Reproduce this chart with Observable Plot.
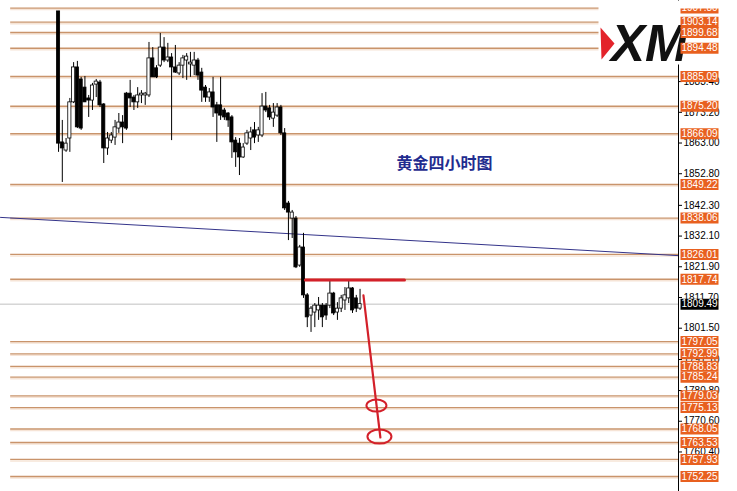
<!DOCTYPE html>
<html>
<head>
<meta charset="utf-8">
<script src="https://cdn.jsdelivr.net/npm/d3@7"></script>
<script src="https://cdn.jsdelivr.net/npm/@observablehq/plot@0.6"></script>
<style>
  html, body { margin: 0; padding: 0; background: #ffffff; }
  #chart svg { display: block; }
</style>
</head>
<body>
<div id="chart"></div>
<script>
// ---- Candle data (gold, 4-hour bars) ----
const open = [1906.7,1863.2,1860.5,1864.5,1876.5,1888.1,1884.1,1881.4,1877.8,1877.1,
  1882.4,1883.1,1875.8,1861.2,1863.8,1864.8,1867.8,1869.8,1879.4,1879.4,
  1878.1,1876.5,1878.8,1878.8,1878.8,1891.1,1887.8,1888.7,1894.7,1890.4,
  1891.4,1888.1,1886.1,1888.7,1890.4,1889.1,1888.7,1890.4,1886.4,1881.4,
  1878.1,1879.8,1875.5,1875.5,1873.8,1872.8,1871.5,1863.8,1862.8,1858.2,
  1862.8,1864.5,1867.2,1865.5,1865.5,1875.1,1874.5,1871.1,1872.1,1874.8,
  1866.2,1842.9,1837.9,1837.9,1822.3,1828.3,1812.4,1805.7,1806.7,1807.4,
  1809.0,1809.0,1809.0,1813.0,1806.7,1808.0,1810.7,1811.4,1814.7,1811.4,
  1808.0];
const high = [1906.7,1870.5,1864.5,1877.8,1889.7,1890.1,1884.8,1885.1,1878.8,1882.8,
  1884.1,1883.8,1876.1,1866.5,1866.5,1870.5,1872.8,1872.1,1879.8,1883.8,
  1878.8,1881.4,1880.4,1879.8,1896.4,1894.7,1888.7,1899.4,1898.0,1896.1,
  1892.7,1895.4,1889.7,1892.1,1892.7,1893.1,1893.1,1891.1,1887.8,1882.1,
  1881.1,1884.8,1876.5,1884.8,1874.5,1873.1,1872.1,1864.8,1864.5,1862.8,
  1867.2,1868.2,1869.8,1868.2,1879.4,1879.8,1875.5,1876.1,1876.1,1875.5,
  1867.8,1843.6,1840.6,1838.6,1829.0,1833.0,1813.0,1808.7,1809.7,1811.7,
  1809.7,1809.7,1817.3,1813.4,1810.0,1812.4,1815.0,1817.3,1815.0,1812.4,
  1814.4];
const low = [1859.9,1849.9,1859.9,1859.9,1876.1,1867.8,1867.2,1876.5,1871.5,1873.8,
  1878.1,1874.8,1856.2,1858.9,1862.8,1862.2,1866.2,1862.8,1867.2,1874.8,
  1873.8,1874.5,1876.1,1875.5,1878.1,1884.8,1884.4,1888.1,1889.7,1889.7,
  1863.8,1886.1,1885.4,1884.4,1883.8,1884.8,1885.4,1883.8,1876.5,1876.5,
  1876.5,1871.5,1863.2,1870.5,1870.5,1868.2,1857.9,1854.9,1852.2,1857.9,
  1862.2,1860.5,1862.8,1863.2,1864.8,1873.1,1870.5,1868.2,1871.5,1865.5,
  1840.6,1830.6,1831.3,1821.3,1821.7,1811.4,1801.7,1800.1,1801.7,1804.1,
  1801.7,1804.1,1808.0,1805.7,1804.1,1806.7,1807.4,1809.7,1806.4,1806.7,
  1807.4];
const close = [1862.8,1861.2,1862.8,1876.5,1888.1,1868.2,1867.8,1876.5,1877.1,1882.1,
  1883.4,1875.5,1861.2,1864.5,1865.5,1868.2,1869.8,1868.2,1867.8,1877.8,
  1876.5,1878.8,1879.4,1879.4,1891.1,1884.8,1884.8,1894.7,1890.4,1891.4,
  1888.1,1886.4,1888.7,1891.1,1891.7,1889.7,1890.4,1885.4,1880.4,1878.1,
  1879.8,1874.8,1872.8,1872.1,1871.5,1870.5,1863.2,1859.9,1858.2,1861.5,
  1866.2,1866.5,1864.8,1867.2,1875.1,1873.8,1871.5,1873.1,1874.8,1866.2,
  1841.3,1839.9,1839.9,1821.7,1828.3,1812.4,1805.1,1808.0,1809.0,1809.0,
  1805.1,1805.7,1813.0,1806.4,1808.0,1811.4,1812.4,1814.7,1807.4,1808.0,
  1809.49];

// ---- Horizontal levels and price axis ----
const levels = [1907.80,1903.14,1899.68,1894.48,1885.09,1875.20,1866.09,1849.22,1838.06,
  1826.01,1817.74,1797.05,1792.99,1788.83,1785.24,1779.03,1775.13,1768.05,1763.53,1757.93,1752.25];
const levelStartIdx = -12.7;
const lastPrice = [1809.49];
const axisTicks = [1883.40,1873.20,1863.00,1852.80,1842.30,1832.10,1821.90,1811.70,1801.50,
  1791.10,1780.80,1770.60,1760.40];

// ---- Annotations (bar index, price) ----
const trendIdx = [-15.4, 164.5];
const trendPrice = [1838.3, 1825.6];
const resistIdx = [65.5, 91.8];
const resistPrice = [1817.5, 1817.5];
const projIdx = [80.9, 85.4];
const projPrice = [1812.4, 1765.2];
const targetIdx = [84.35, 85.15];
const targetPrice = [1775.8, 1765.5];
const noteIdx = [102.4];
const notePrice = [1856.2];
const noteText = ["黄金四小时图"];

const candles = open.map((o, i) => ({i, o, h: high[i], l: low[i], c: close[i], up: close[i] >= o}));
const trend = trendIdx.map((i, k) => ({i, p: trendPrice[k]}));
const resist = resistIdx.map((i, k) => ({i, p: resistPrice[k]}));
const proj = projIdx.map((i, k) => ({i, p: projPrice[k]}));
const targets = targetIdx.map((i, k) => ({i, p: targetPrice[k], k}));
const note = noteIdx.map((i, k) => ({i, p: notePrice[k], t: noteText[k]}));

const FONT = "Liberation Sans, Arial, sans-serif";
const ORANGE_LINE = "#c9946b";
const LABEL_BG = "#e8601f";
const RED = "#d3202a";

// custom symbols
const boxSymbol = (x, w, h) => ({draw(ctx) { ctx.rect(x, -h / 2, w, h); }});
const ellipseSymbol = (rx, ry) => ({draw(ctx) {
  const k = 0.5523, kx = rx * k, ky = ry * k;
  ctx.moveTo(rx, 0);
  ctx.bezierCurveTo(rx, ky, kx, ry, 0, ry);
  ctx.bezierCurveTo(-kx, ry, -rx, ky, -rx, 0);
  ctx.bezierCurveTo(-rx, -ky, -kx, -ry, 0, -ry);
  ctx.bezierCurveTo(kx, -ry, rx, -ky, rx, 0);
  ctx.closePath();
}});
const logoBox = {draw(ctx) { ctx.rect(-80, 0, 90, 64); }};
const logoTri = {draw(ctx) { ctx.moveTo(-78, 27); ctx.lineTo(-64, 43); ctx.lineTo(-77, 59); ctx.closePath(); }};
const topCover = {draw(ctx) { ctx.rect(1, 0, 42, 8); }};

const chart = Plot.plot({
  width: 737,
  height: 491,
  marginLeft: 0,
  marginRight: 59,
  marginTop: 0,
  marginBottom: 0,
  style: {background: "#ffffff", fontFamily: FONT},
  x: {domain: [trendIdx[0], trendIdx[1]], axis: null},
  y: {domain: [1747.27, 1910.33], axis: null},
  marks: [
    // horizontal levels
    Plot.ruleY(levels, {y: d => d, x1: levelStartIdx, x2: trendIdx[1], dy: 1.5, stroke: "#f6e4d6", strokeWidth: 1.5}),
    Plot.ruleY(levels, {y: d => d, x1: levelStartIdx, x2: trendIdx[1], stroke: ORANGE_LINE, strokeWidth: 1.4}),
    // current price line
    Plot.ruleY(lastPrice, {stroke: "#c0c0c0", strokeWidth: 1}),
    // trend line
    Plot.line(trend, {x: "i", y: "p", stroke: "#34348a", strokeWidth: 1}),
    // candle wicks
    Plot.ruleX(candles, {x: "i", y1: "l", y2: "h", stroke: "#000000", strokeWidth: 1}),
    // candle bodies
    Plot.rect(candles, {
      x1: d => d.i - 0.42, x2: d => d.i + 0.42,
      y1: d => Math.min(d.o, d.c), y2: d => Math.max(d.o, d.c),
      fill: d => d.up ? "#ffffff" : "#000000", stroke: "#000000", strokeWidth: 0.8
    }),
    // red annotations
    Plot.line(resist, {x: "i", y: "p", stroke: RED, strokeWidth: 3}),
    Plot.line(proj, {x: "i", y: "p", stroke: RED, strokeWidth: 2.2}),
    Plot.dot(targets.filter(d => d.k === 0), {x: "i", y: "p", symbol: ellipseSymbol(10, 6), fill: "none", stroke: RED, strokeWidth: 2}),
    Plot.dot(targets.filter(d => d.k === 1), {x: "i", y: "p", symbol: ellipseSymbol(12, 7), fill: "none", stroke: RED, strokeWidth: 2}),
    // price axis
    Plot.ruleX([trendIdx[1]], {stroke: "#000000", strokeWidth: 1}),
    Plot.axisY(axisTicks, {anchor: "right", tickFormat: d => d.toFixed(2), tickSize: 3, tickPadding: 2, fontSize: 10, fontFamily: FONT, stroke: "#000000", fill: "#000000"}),
    // logo
    Plot.dot([0], {frameAnchor: "top-right", symbol: logoBox, fill: "#ffffff", stroke: "none"}),
    Plot.dot([0], {frameAnchor: "top-right", symbol: logoTri, fill: "#e3232b", stroke: "none"}),
    Plot.text(["XM"], {frameAnchor: "top-right", dx: 9, dy: 44, textAnchor: "end", lineAnchor: "middle", fontSize: 51, fontWeight: 900, fontStyle: "italic", fontFamily: FONT, fill: "#111111"}),
    // level labels
    Plot.dot(levels, {y: d => d, frameAnchor: "right", symbol: boxSymbol(2, 38, 11), fill: LABEL_BG, stroke: "none"}),
    Plot.text(levels, {y: d => d, frameAnchor: "right", text: d => d.toFixed(2), dx: 3, textAnchor: "start", fill: "#ffffff", fontSize: 10, fontFamily: FONT}),
    Plot.dot(lastPrice, {y: d => d, frameAnchor: "right", symbol: boxSymbol(2, 38, 11), fill: "#000000", stroke: "none"}),
    Plot.text(lastPrice, {y: d => d, frameAnchor: "right", text: d => d.toFixed(2), dx: 3, textAnchor: "start", fill: "#ffffff", fontSize: 10, fontFamily: FONT}),
    Plot.dot([0], {frameAnchor: "top-right", symbol: topCover, fill: "#ffffff", stroke: "none"}),
    // chart note
    Plot.text(note, {x: "i", y: "p", text: "t", fontSize: 16, fontWeight: "bold", fill: "#1f2c8f", fontFamily: "Noto Sans CJK SC, sans-serif"})
  ]
});
document.getElementById("chart").appendChild(chart);
</script>
</body>
</html>
